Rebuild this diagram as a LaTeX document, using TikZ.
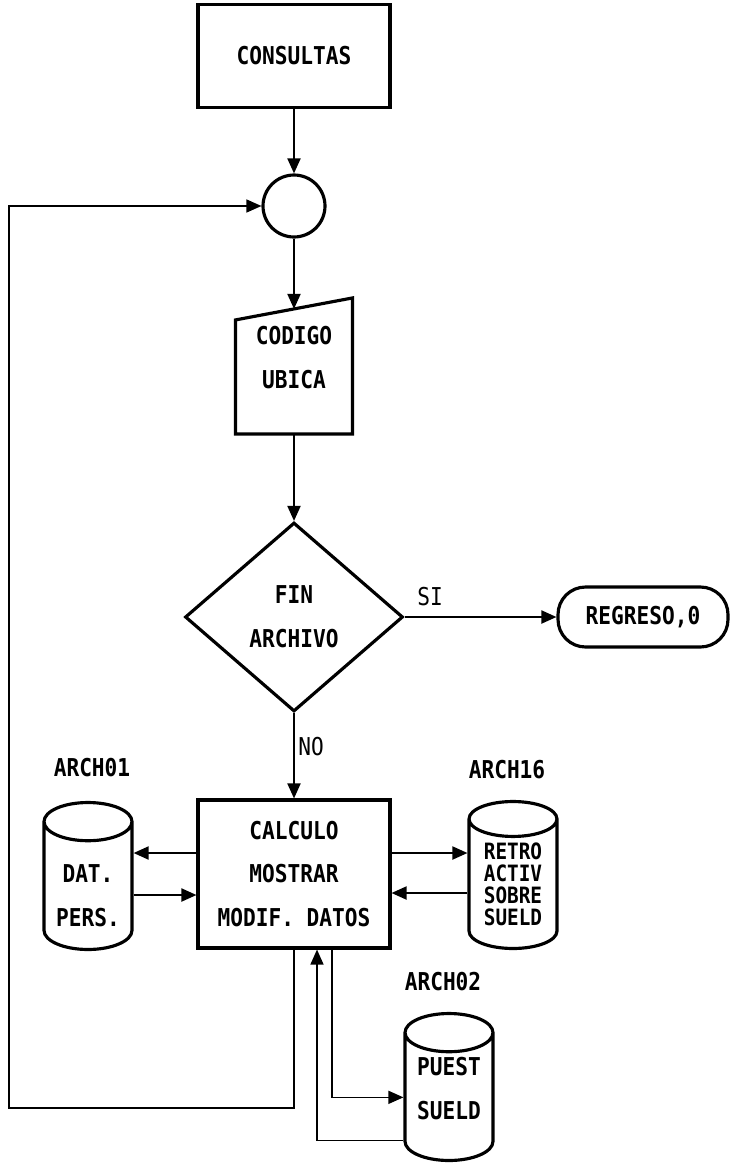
\documentclass[tikz,border=0pt]{standalone}
\usepackage{fontspec}
\newfontfamily\dotfont[FakeStretch=0.86]{DejaVu Sans Mono}
\usetikzlibrary{arrows.meta, positioning, shapes.geometric, calc}
\newcommand\shifted[2]{\raisebox{#1}[0pt][0pt]{\begin{tabular}{@{}c@{}}#2\end{tabular}}}
\tikzset{
  every picture/.style={line width=1.1pt},
  box/.style={draw, line width=1.8pt, align=center, inner sep=0pt, font=\dotfont\bfseries\fontsize{14}{25}\selectfont},
  arrow/.style={-{Triangle[length=3mm, width=2.6mm]}, line width=1.1pt},
  back/.style={line width=0.8pt},
  tag/.style={font=\dotfont\bfseries\fontsize{14}{16}\selectfont},
  note/.style={font=\dotfont\fontsize{14}{16}\selectfont},
}

\begin{document}
\begin{tikzpicture}[x=0.02cm, y=-0.02cm,
  disk/.style={box, cylinder, shape border rotate=90, aspect=0.6, minimum width=1.76cm, minimum height=2.94cm, anchor=shape center},
  tight/.style={font=\dotfont\bfseries\fontsize{12.8}{12.6}\selectfont}]
  \useasboundingbox (0,0) rectangle (735,1163);
  \node[box, minimum width=3.84cm, minimum height=2.06cm] (consultas) at (294,56) {CONSULTAS};
  \node[circle, draw, line width=1.8pt, minimum size=1.24cm] (join) at (294,206) {};
  \node[box, draw=none, minimum width=2.28cm, minimum height=2.66cm] (codigo) at (294,366) {\shifted{1pt}{CODIGO\\UBICA}};
  \draw[line width=1.8pt] ($(codigo.north west)+(0,22)$) -- (codigo.north east) -- (codigo.south east) -- (codigo.south west) -- cycle;
  \coordinate (codigo top) at ($(codigo.north)+(0,11)$);
  \node[box, diamond, minimum width=4.36cm, minimum height=3.78cm] (fin) at (294,617) {FIN\\ARCHIVO};
  \node[box, rounded corners=0.55cm, minimum width=3.4cm, minimum height=1.2cm] (regreso) at (643,617) {REGRESO,0};
  \node[box, minimum width=3.84cm, minimum height=2.96cm] (calc) at (294,874) {CALCULO\\MOSTRAR\\MODIF. DATOS};
  \node[disk] (arch01) at (88,876) {\shifted{-9pt}{DAT.\\PERS.}};
  \node[disk, tight] (arch16) at (513,875) {RETRO\\ACTIV\\SOBRE\\SUELD};
  \node[disk] (arch02) at (449,1087) {\shifted{1.3pt}{PUEST\\SUELD}};
  \node[tag] (lbl01) at (92,768) {ARCH01};
  \node[tag] (lbl16) at (507,770) {ARCH16};
  \node[tag] (lbl02) at (443,982) {ARCH02};
  \node[note] (si) at (430,597) {SI};
  \node[note] (no) at (311,747) {NO};

  \coordinate (a1) at ($(calc.west)+(0,-21)$);
  \coordinate (a2) at ($(calc.west)+(0,21)$);
  \coordinate (a3) at ($(calc.east)+(0,-21)$);
  \coordinate (a4) at ($(calc.east)+(0,19)$);
  \draw[arrow] (consultas) -- (join);
  \draw[arrow] (join) -- (codigo top);
  \draw[arrow] (codigo.south) -- (fin.north);
  \draw[arrow] (fin.east) -- (regreso.west);
  \draw[arrow] (fin.south) -- (calc.north);
  \draw[arrow] (a1) -- (a1 -| arch01.east);
  \draw[arrow] (a2 -| arch01.east) -- (a2);
  \draw[arrow] (a3) -- (a3 -| arch16.west);
  \draw[arrow] (a4 -| arch16.west) -- (a4);
  % retorno y lazo
  \draw[arrow, back] ($(calc.south)+(38,0)$) |- (arch02.west);
  \draw[arrow, back] ($(arch02.west)+(0,43)$) -| ($(calc.south)+(23,0)$);
  \coordinate (loop) at (9,1108);
  \draw[arrow, back] (calc.south) |- (loop) |- (join.west);
\end{tikzpicture}
\end{document}
